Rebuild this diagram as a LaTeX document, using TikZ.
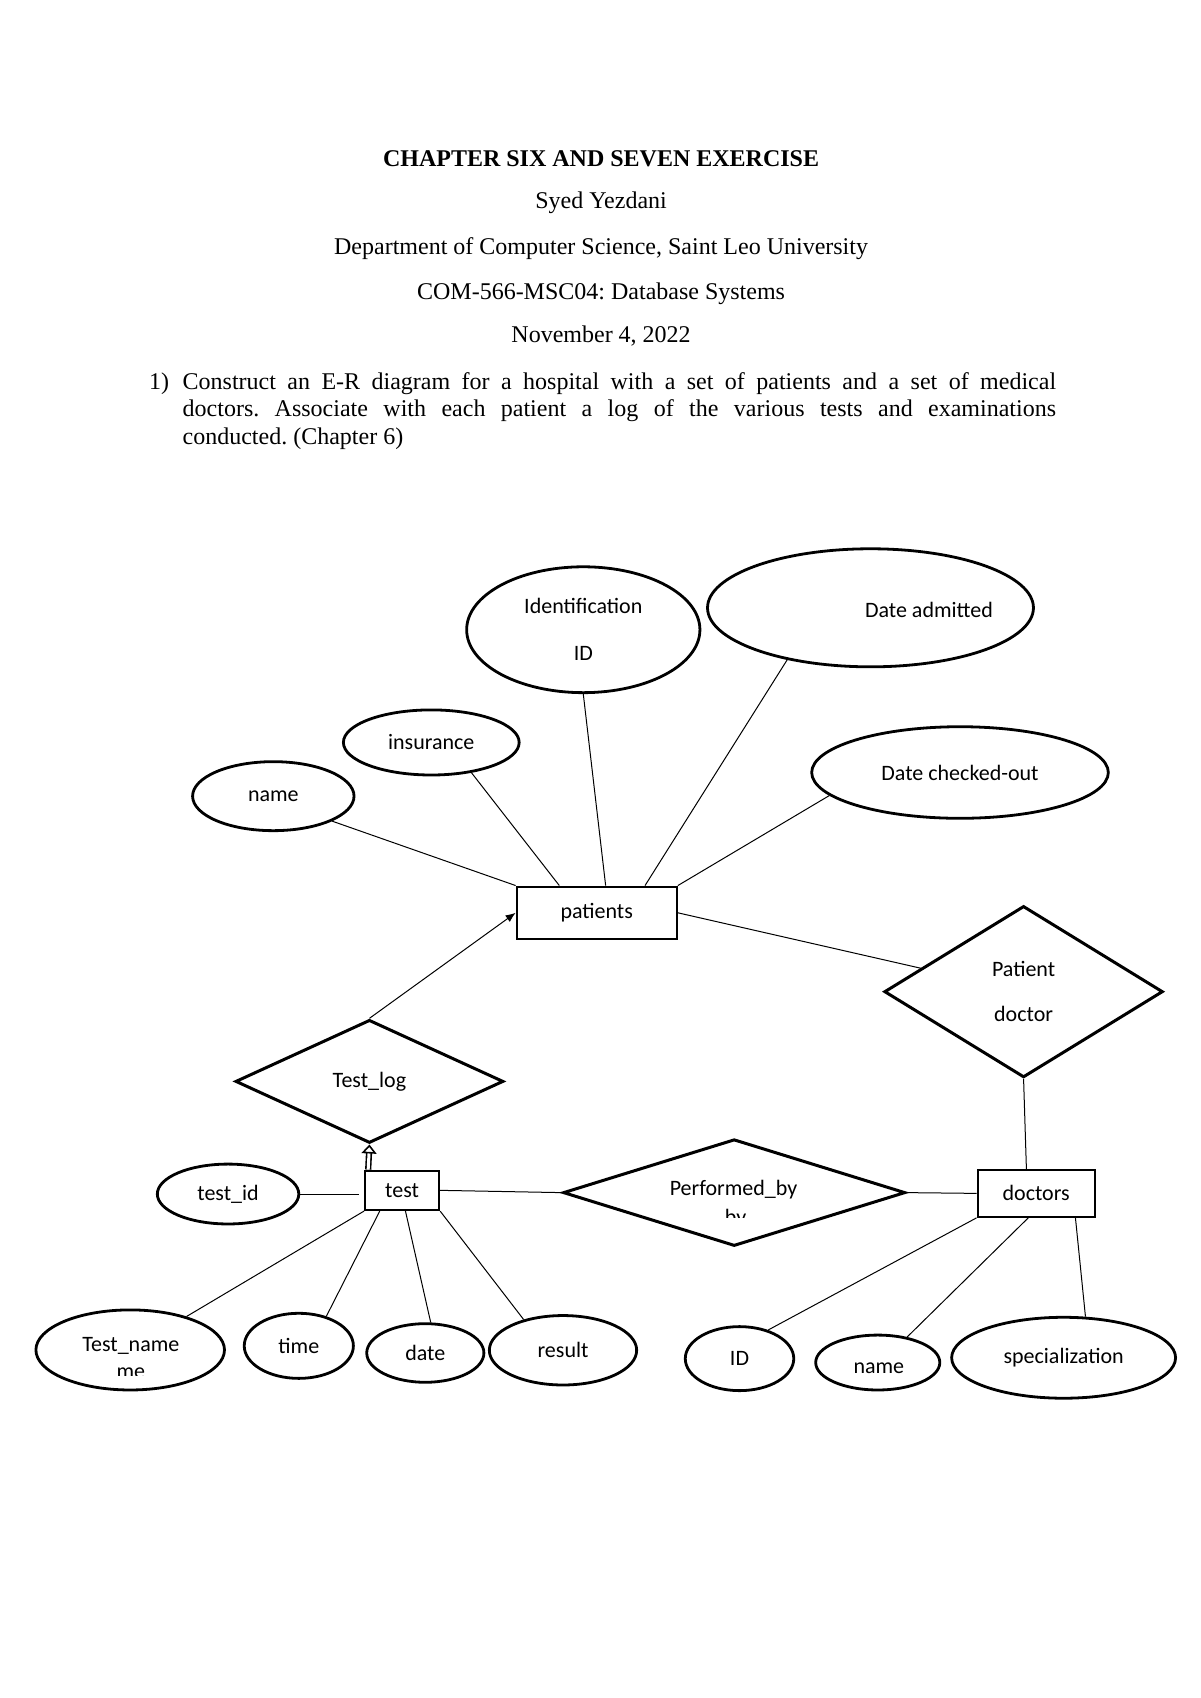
\documentclass[tikz,border=0pt]{standalone}
\usepackage{fontspec}
\setmainfont{Liberation Serif}
\newfontfamily\lblfont{Carlito}
\usetikzlibrary{shapes.geometric, arrows.meta, calc}
\newcommand\lbl{\lblfont\fontsize{11}{13.4}\selectfont}
\newcommand\hdr{\fontsize{12}{13.8}\selectfont}
\frenchspacing
\begin{document}
\begin{tikzpicture}[x=0.5425pt, y=-0.5425pt,
  ell/.style 2 args={draw, ellipse, line width=1.4pt, inner sep=0pt,
    minimum width=#1*1.085pt, minimum height=#2*1.085pt, font=\lbl},
  ent/.style 2 args={draw, rectangle, line width=1.1pt, inner sep=0pt,
    minimum width=#1*0.5425pt, minimum height=#2*0.5425pt, font=\lbl},
  rel/.style 2 args={draw, diamond, line width=1.5pt, inner sep=0pt, aspect=1,
    minimum width=#1*0.5425pt, minimum height=#2*0.5425pt, font=\lbl},
  lnk/.style={line width=0.5pt},
  dbl/.style={double, double distance=1.5pt, line width=0.8pt,
    -{Triangle[open, length=4.5pt, width=7.5pt, line width=0.8pt]}},
  lbltxt/.style={inner sep=0pt, font=\lbl},
  hdrtxt/.style={inner sep=0pt, anchor=base, font=\hdr},
  partxt/.style={inner sep=0pt, anchor=base west, font=\hdr}]
\fill[white] (0,0) rectangle (1106,1565);
\useasboundingbox (0,0) rectangle (1106,1565);

% ---------- header ----------
\node[hdrtxt, font=\hdr\bfseries] (title) at (554,153.6) {CHAPTER SIX AND SEVEN EXERCISE};
\node[hdrtxt] (author) at (554,192) {Syed Yezdani};
\node[hdrtxt] (dept) at (554,234.4) {Department of Computer Science, Saint Leo University};
\node[hdrtxt] (course) at (554,275.9) {COM-566-MSC04: Database Systems};
\node[hdrtxt] (hdate) at (554,315.8) {November 4, 2022};
\node[partxt] (qnum) at (137,358.8) {1)};
\node[partxt] (q1) at (168,358.8) {\makebox[436.7pt][s]{Construct an E-R diagram for a hospital with a set of patients and a set of medical}};
\node[partxt] (q2) at (168,384) {\makebox[436.7pt][s]{doctors. Associate with each patient a log of the various tests and examinations}};
\node[partxt] (q3) at (168,410) {conducted. (Chapter 6)};

% ---------- patients side ----------
\node[ell={107.5}{58}, align=center] (idid) at (537.6,580.4) {Identification\\[10pt]ID};
\node[ell={150.2}{54.4}] (dadm) at (802.3,560.2) {};
\node[lbltxt] (dadmt) at (856.2,562.6) {Date admitted};
\node[ell={136.7}{42.2}] (dcho) at (884.8,712) {Date checked-out};
\node[ell={81}{30}] (ins) at (397.5,684.3) {insurance};
\node[ell={74.4}{31.8}] (nm) at (251.9,733.8) {name};
\node[ent={147.5}{48.2}] (patients) at (550,841.3) {patients};
\node[rel={256.8}{158}, align=center] (pd) at (943.4,914) {Patient\\[9pt]doctor};
\node[rel={247}{113.5}] (tl) at (340.5,996.7) {Test\_log};

% ---------- test side ----------
\node[ent={68.1}{36.2}] (test) at (370.6,1097.1) {test};
\node[ell={65.2}{27.6}] (tid) at (210.2,1100.5) {test\_id};
\node[ell={86.9}{36.9}] (tname) at (120,1244.2) {};
\node[lbltxt, anchor=base] (tnamet) at (120.6,1245.8) {Test\_name};
\begin{scope}
  \clip (60,1250) rectangle (180,1268);
  \node[lbltxt, anchor=base] (tnamecut) at (120.6,1270.5) {me};
\end{scope}
\node[ell={50.3}{30}] (time) at (275.4,1240.4) {time};
\node[ell={54}{27}] (date) at (392,1247) {date};
\node[ell={67.9}{32}] (result) at (518.9,1244.5) {result};

% ---------- doctors side ----------
\node[rel={315.4}{98.4}] (perf) at (676.7,1099.2) {};
\node[lbltxt, anchor=base] (perft) at (676.1,1102.3) {Performed\_by};
\begin{scope}
  \clip (640,1105) rectangle (720,1122.5);
  \node[lbltxt, anchor=base] (perfcut) at (678,1129) {by};
\end{scope}
\node[ent={107.9}{43.1}] (doctors) at (955,1099.9) {doctors};
\node[ell={50}{29.5}] (did) at (681.6,1252.2) {ID};
\node[ell={57.2}{25.3}] (dname) at (809,1255.8) {};
\node[lbltxt] (dnamet) at (810,1261) {name};
\node[ell={103.2}{37.3}] (spec) at (980.3,1251.4) {specialization};

% ---------- connectors ----------
\draw[lnk] (nm.-23) -- (patients.north west);
\draw[lnk] (ins.-37) -- ($(patients.north)+(-34.5,0)$);
\draw[lnk] (idid.south) -- ($(patients.north)+(8.2,0)$);
\draw[lnk] (dadm.-148.5) -- ($(patients.north)+(44.5,0)$);
\draw[lnk] (dcho.-170.7) -- (patients.north east);
\draw[lnk] (patients.east) -- (pd);
\draw[lnk, -{Latex[length=5pt,width=4pt]}] (tl.north) -- (patients.west);
\draw[dbl] ($(test.north west)+(3.8,0)$) -- (tl.south);
\draw[lnk] (tid.east) -- ($(tid.east -| test.west)+(-4.5,0)$);
\draw[lnk] (test.south west) -- (tname);
\draw[lnk] ($(test.south)+(-20.6,0)$) -- (time.47);
\draw[lnk] ($(test.south)+(3.1,0)$) -- (date.80);
\draw[lnk] (test.south east) -- (result.142);
\draw[lnk] (test.east) -- (perf.west);
\draw[lnk] (perf.east) -- (doctors.west);
\draw[lnk] ($(doctors.north)+(-9,0)$) -- (pd.south);
\draw[lnk] (doctors.south west) -- (did.45);
\draw[lnk] ($(doctors.south)+(-7.3,0)$) -- (dname.41);
\draw[lnk] ($(doctors.south)+(36.2,0)$) -- (spec.62);
\end{tikzpicture}
\end{document}
